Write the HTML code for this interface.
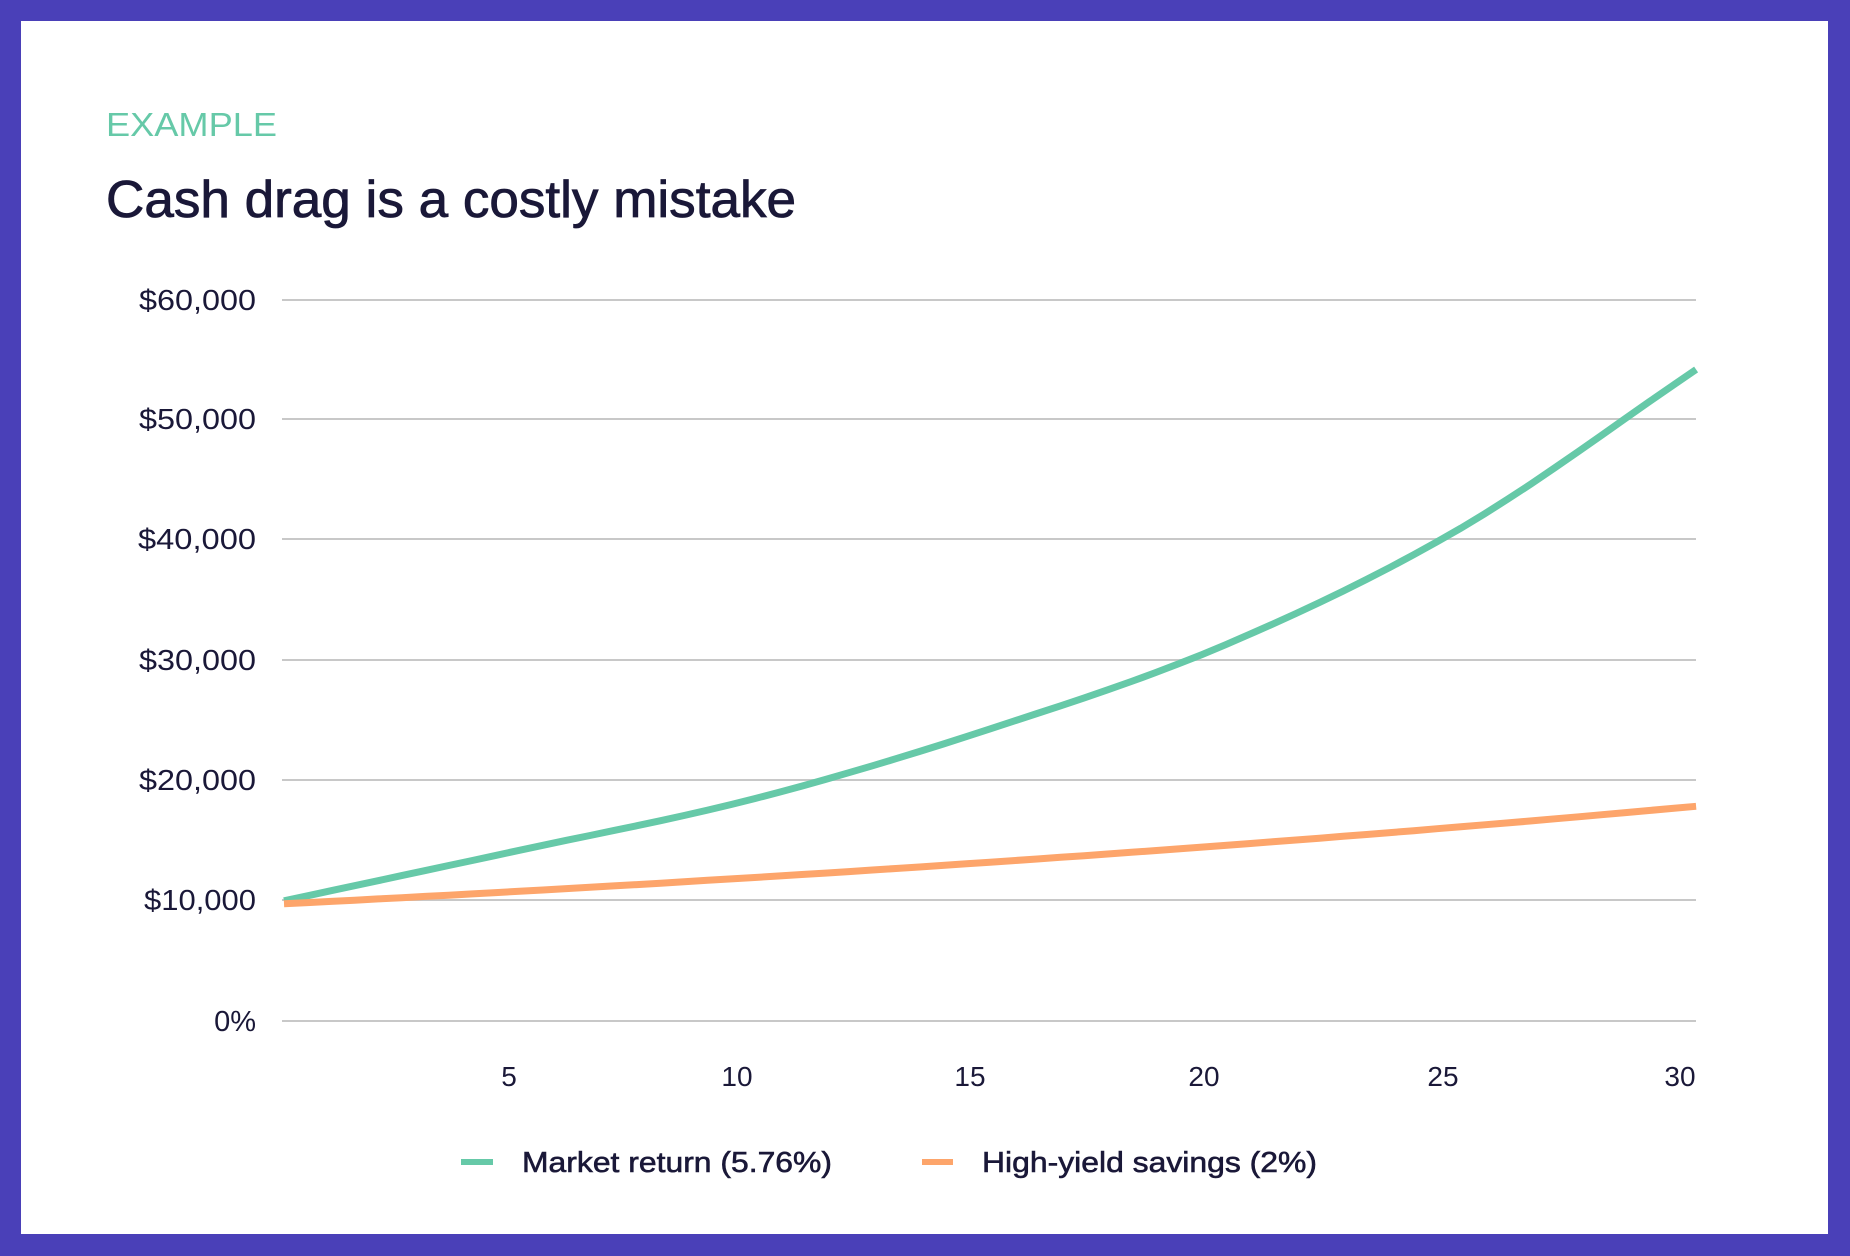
<!DOCTYPE html>
<html><head><style>
html,body{margin:0;padding:0}
body{width:1850px;height:1256px;background:#4a40b8;position:relative;overflow:hidden;font-family:"Liberation Sans",sans-serif}
.card{position:absolute;left:21px;top:21px;width:1807px;height:1213px;background:#fff}
</style></head><body>
<div class="card"></div>
<svg width="1850" height="1256" style="position:absolute;left:0;top:0" font-family="Liberation Sans, sans-serif">
<text x="106" y="136" font-size="33" fill="#66c9a8" textLength="171" lengthAdjust="spacingAndGlyphs">EXAMPLE</text>
<text x="106" y="217" font-size="52" fill="#1a1838" textLength="690" lengthAdjust="spacingAndGlyphs" stroke="#1a1838" stroke-width="0.8">Cash drag is a costly mistake</text>
<g stroke="#c8c8c8" stroke-width="2">
<line x1="282" x2="1696" y1="300" y2="300"/><line x1="282" x2="1696" y1="419" y2="419"/>
<line x1="282" x2="1696" y1="539" y2="539"/><line x1="282" x2="1696" y1="660" y2="660"/>
<line x1="282" x2="1696" y1="780" y2="780"/><line x1="282" x2="1696" y1="900" y2="900"/>
<line x1="282" x2="1696" y1="1021" y2="1021"/></g>
<g font-size="29" fill="#1a1838" text-anchor="end">
<text x="256" y="310" textLength="117" lengthAdjust="spacingAndGlyphs">$60,000</text><text x="256" y="429" textLength="117" lengthAdjust="spacingAndGlyphs">$50,000</text><text x="256" y="549" textLength="118" lengthAdjust="spacingAndGlyphs">$40,000</text>
<text x="256" y="670" textLength="117" lengthAdjust="spacingAndGlyphs">$30,000</text><text x="256" y="790" textLength="117" lengthAdjust="spacingAndGlyphs">$20,000</text><text x="256" y="910" textLength="112" lengthAdjust="spacingAndGlyphs">$10,000</text>
<text x="256" y="1031">0%</text></g>
<g font-size="28" fill="#1a1838" text-anchor="middle">
<text x="509" y="1086">5</text><text x="737" y="1086">10</text><text x="970" y="1086">15</text>
<text x="1204" y="1086">20</text><text x="1443" y="1086">25</text><text x="1680" y="1086">30</text></g>
<polyline id="g" fill="none" stroke="#66c9a8" stroke-width="7" points=""/>
<polyline id="o" fill="none" stroke="#fda56b" stroke-width="7" points=""/>
<line x1="461" x2="493" y1="1162" y2="1162" stroke="#66c9a8" stroke-width="6"/>
<line x1="922" x2="953" y1="1162" y2="1162" stroke="#fda56b" stroke-width="6"/>
<g font-size="29" fill="#1a1838" stroke="#1a1838" stroke-width="0.6">
<text x="522" y="1172" textLength="310" lengthAdjust="spacingAndGlyphs">Market return (5.76%)</text>
<text x="982" y="1172" textLength="335" lengthAdjust="spacingAndGlyphs">High-yield savings (2%)</text></g>
</svg>
<script>
var K=[10000,14200,18500,24300,31300,41000,54200];
function val(t){var i=Math.min(5,Math.floor(t/5)),u=(t-5*i)/5;
var p0=K[Math.max(0,i-1)],p1=K[i],p2=K[i+1],p3=K[Math.min(6,i+2)];
if(i==0)p0=2*p1-p2; if(i==5)p3=2*p2-p1;
return 0.5*((2*p1)+(-p0+p2)*u+(2*p0-5*p1+4*p2-p3)*u*u+(-p0+3*p1-3*p2+p3)*u*u*u);}
function pts(f,off){var a=[];for(var i=0;i<=60;i++){var t=i/2;var v=f(t);a.push((284+t*47.07).toFixed(1)+","+(1021-v*0.01202+off).toFixed(1));}return a.join(" ");}
document.getElementById("g").setAttribute("points",pts(val,0));
document.getElementById("o").setAttribute("points",pts(function(t){return 10000*Math.pow(1.02,t)},3));
</script>
</body></html>
